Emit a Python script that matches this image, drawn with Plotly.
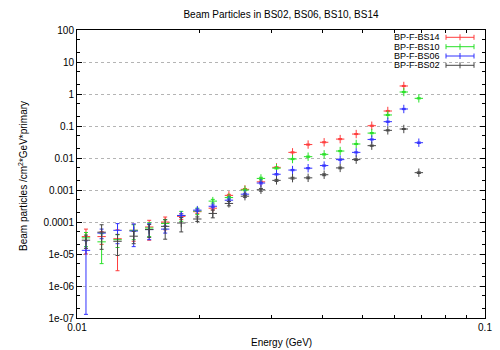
import plotly.graph_objects as go

# ---- data ----
energy = [0.01052, 0.01149, 0.01257, 0.01377, 0.01503, 0.01645, 0.01801, 0.01972,
          0.02152, 0.02357, 0.0258, 0.02824, 0.03083, 0.03375, 0.03685, 0.04034,
          0.04416, 0.04834, 0.05278, 0.05778, 0.06324, 0.06884]

bs14 = [3.5e-5, 3.5e-5, 3.0e-5, 5.5e-5, 7.0e-5, 1.0e-4, 1.5e-4, 2.1e-4, 2.7e-4, 6.8e-4,
        1.05e-3, 1.8e-3, 5.1e-3, 0.0150, 0.0263, 0.031, 0.039, 0.056, 0.102, 0.294, 1.78, None]
bs14_err = [2.5e-5, 1.5e-5, 2.7e-5, 3.0e-5, 4.3e-5, 4.3e-5, 3.0e-5, 2.5e-5, 3e-5, 5e-5,
            6e-5, 1e-4, 2.5e-4, 6e-4, 1e-3, 1.2e-3, 1.5e-3, 2e-3, 4e-3, 0.012, 0.07, None]

bs10 = [3.2e-5, 2.4e-5, 2.8e-5, 5.5e-5, 6.5e-5, 9e-5, 1.6e-4, 2.2e-4, 4.5e-4, 5.8e-4,
        1.0e-3, 2.3e-3, 4.8e-3, 9.3e-3, 0.0110, 0.013, 0.0165, 0.0274, 0.060, 0.221, 1.155, 0.732]
bs10_err = [1.5e-5, 1.9e-5, 1.2e-5, 2.7e-5, 3e-5, 3e-5, 5.5e-5, 5e-5, 6e-5, 5e-5,
            6e-5, 2e-4, 2.5e-4, 4e-4, 5e-4, 6e-4, 7e-4, 1.1e-3, 2.5e-3, 9e-3, 0.05, 0.03]

bs06 = [1.3e-5, 4.5e-5, 5.5e-5, 5.2e-5, 5.8e-5, 6e-5, 1.6e-4, 2.35e-4, 3.1e-4, 4.8e-4,
        7.4e-4, 1.65e-3, 3.1e-3, 4.2e-3, 4.8e-3, 5.8e-3, 8.9e-3, 0.0150, 0.038, 0.1365, 0.34, 0.0301]
bs06_err = [1.287e-5, 1.5e-5, 3.4e-5, 3.5e-5, 3e-5, 1.5e-5, 2e-5, 2e-5, 3e-5, 4e-5,
            5e-5, 1e-4, 1.5e-4, 2e-4, 2e-4, 2.5e-4, 4e-4, 6e-4, 1.5e-3, 6e-3, 0.015, 1.5e-3]

bs02 = [2.7e-5, 4.8e-5, 2.5e-5, 3.6e-5, 5.8e-5, 7.3e-5, 9.3e-5, 1.24e-4, 1.85e-4, 3.8e-4,
        6.4e-4, 1.02e-3, 2.0e-3, 2.35e-3, 2.4e-3, 3.0e-3, 4.9e-3, 8.9e-3, 0.0243, 0.0732, 0.0806, 0.00348]
bs02_err = [1.2e-5, 3.4e-5, 1.6e-5, 1.5e-5, 2.5e-5, 4.4e-5, 4.4e-5, 2e-5, 5e-5, 6e-5,
            5e-5, 1e-4, 1.5e-4, 1.5e-4, 1.5e-4, 2e-4, 3e-4, 5e-4, 1e-3, 3e-3, 3e-3, 2e-4]

series_names = ["BP-F-BS14", "BP-F-BS10", "BP-F-BS06", "BP-F-BS02"]
series_vals = [bs14, bs10, bs06, bs02]
series_errs = [bs14_err, bs10_err, bs06_err, bs02_err]
colors = ["rgb(255,60,60)", "rgb(40,225,40)", "rgb(50,50,255)", "rgb(70,70,70)"]

ytick_vals = [1e-7, 1e-6, 1e-5, 1e-4, 1e-3, 1e-2, 1e-1, 1, 10, 100]
ytick_text = ["1e-07", "1e-06", "1e-05", "0.0001", "0.001", "0.01", "0.1", "1", "10", "100"]
xtick_vals = [0.01, 0.1]
xtick_text = ["0.01", "0.1"]

FONT = "Liberation Sans, Arial, sans-serif"

fig = go.Figure()
for name, vals, errs, c in zip(series_names, series_vals, series_errs, colors):
    fig.add_trace(go.Scatter(
        x=energy, y=vals, mode="markers", name=name,
        marker=dict(symbol="cross-thin", size=6, color=c, line=dict(width=1, color=c)),
        error_y=dict(type="data", array=errs, visible=True, color=c, thickness=1, width=2),
        showlegend=False,
    ))

# minor tick positions (2 and 5 per decade on y, 2..9 on x)
y_minor = [m * 10.0 ** e for e in range(-7, 2) for m in (2, 5)]
x_minor = [m * 0.01 for m in range(2, 10)]

L, R, T, B = 77, 15, 30, 32
W, H = 500, 350
pw, ph = W - L - R, H - T - B

def px(xpix):
    return (xpix - L) / pw

def py(ypix):
    return (H - B - ypix) / ph

# custom gnuplot-style key: text right-aligned, errorbar sample to the right
shapes = []
annotations = []
row_y = [37.3, 46.7, 56.0, 65.3]
for name, c, yy in zip(series_names, colors, row_y):
    annotations.append(dict(x=px(441), y=py(yy), xref="paper", yref="paper",
                            text=name, showarrow=False, xanchor="right", yanchor="middle",
                            borderpad=0,
                            font=dict(family=FONT, size=9, color="black")))
    line = dict(color=c, width=1)
    shapes.append(dict(type="line", xref="paper", yref="paper",
                       x0=px(446), x1=px(474), y0=py(yy), y1=py(yy), line=line))
    for xx in (446, 474):
        shapes.append(dict(type="line", xref="paper", yref="paper",
                           x0=px(xx), x1=px(xx), y0=py(yy - 2.5), y1=py(yy + 2.5), line=line))
    shapes.append(dict(type="line", xref="paper", yref="paper",
                       x0=px(460), x1=px(460), y0=py(yy - 3), y1=py(yy + 3), line=line))

annotations.append(dict(x=px(23), y=py(176), xref="paper", yref="paper",
                        text="Beam particles /cm<sup>2</sup>*GeV*primary", textangle=-90,
                        showarrow=False, xanchor="center", yanchor="middle",
                        font=dict(family=FONT, size=10, color="black")))
annotations.append(dict(x=0.5, y=py(342), xref="paper", yref="paper",
                        text="Energy (GeV)", showarrow=False, xanchor="center", yanchor="middle",
                        font=dict(family=FONT, size=10, color="black")))

fig.update_layout(
    width=W, height=H, autosize=False,
    margin=dict(l=L, r=R, t=T, b=B, pad=0, autoexpand=False),
    paper_bgcolor="white", plot_bgcolor="white",
    font=dict(family=FONT, size=10, color="black"),
    title=dict(text="Beam Particles in BS02, BS06, BS10, BS14", x=0.5, xref="paper",
               y=1 - 14 / H, yref="container", xanchor="center", yanchor="middle",
               font=dict(family=FONT, size=10, color="black")),
    shapes=shapes, annotations=annotations,
)
fig.update_xaxes(type="log", range=[-2, -1], tickmode="array", tickvals=xtick_vals,
                 ticktext=xtick_text, ticks="inside", ticklen=5, tickcolor="black",
                 showline=True, linecolor="black", linewidth=1, mirror="ticks",
                 showgrid=False, zeroline=False, automargin=False,
                 minor=dict(tickmode="array", tickvals=x_minor, ticks="inside", ticklen=3,
                            tickcolor="black", showgrid=False))
fig.update_yaxes(type="log", range=[-7, 2], tickmode="array", tickvals=ytick_vals,
                 ticktext=ytick_text, ticks="inside", ticklen=5, tickcolor="black",
                 showline=True, linecolor="black", linewidth=1, mirror="ticks",
                 showgrid=True, gridcolor="#b4b4b4", griddash="dot", gridwidth=1,
                 zeroline=False, automargin=False,
                 minor=dict(tickmode="array", tickvals=y_minor, ticks="inside", ticklen=3,
                            tickcolor="black", showgrid=False))

fig.write_html("out.html")
